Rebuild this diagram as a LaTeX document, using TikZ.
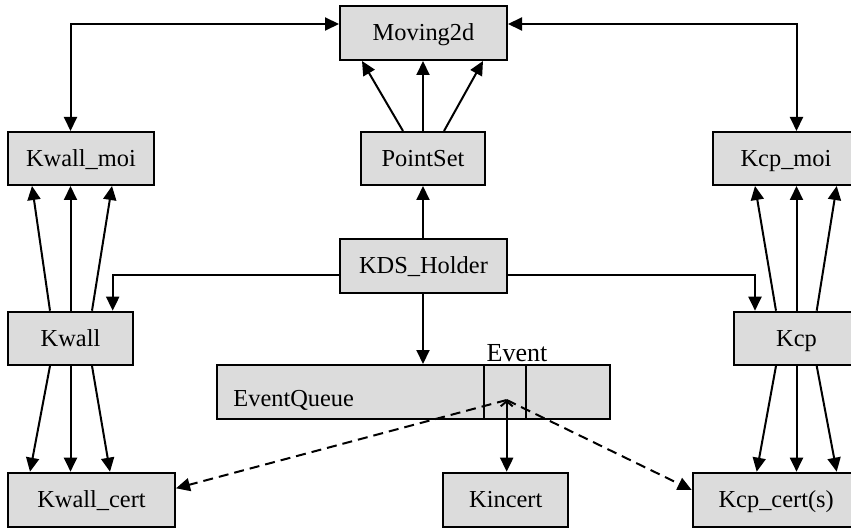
\documentclass[tikz,border=0pt]{standalone}
\usepackage{fontspec}
\setmainfont{Liberation Serif}
\usetikzlibrary{arrows.meta,calc}
\definecolor{boxgray}{HTML}{DCDCDC}
\tikzset{
  box/.style={draw, fill=boxgray, line width=1pt, inner sep=0pt, text height=8pt, text depth=0pt, font=\fontsize{12.2}{14}\selectfont},
  arr/.style={-{Triangle[length=7pt,width=6.5pt]}, line width=1pt},
  darr/.style={{Triangle[length=7pt,width=6.5pt]}-{Triangle[length=7pt,width=6.5pt]}, line width=1pt},
  dasharr/.style={arr, dash pattern=on 5pt off 3pt},
  lbl/.style={inner sep=0pt}
}
\begin{document}
\begin{tikzpicture}[x=0.5pt,y=-0.5pt]
\path[use as bounding box, clip] (0,0) rectangle (851,529);
% boxes
\node[box, minimum width=83.5pt, minimum height=27pt] (mov) at (423.5,33) {Moving2d};
\node[box, minimum width=73pt, minimum height=26.5pt] (kwm) at (81,158.5) {Kwall\_moi};
\node[box, minimum width=62pt, minimum height=26.5pt] (ps) at (423,158.5) {PointSet};
\node[box, minimum width=73pt, minimum height=26.5pt] (kcm) at (786,158.5) {Kcp\_moi};
\node[box, minimum width=83.5pt, minimum height=27pt] (kds) at (423.5,266) {KDS\_Holder};
\node[box, minimum width=62.5pt, minimum height=26.6pt] (kw) at (70.5,338.3) {Kwall};
\node[box, minimum width=62.5pt, minimum height=26.6pt] (kc) at (796.5,338.3) {Kcp};
\node[box, minimum width=196.7pt, minimum height=27.2pt] (eq) at (413.3,392.2) {};
\draw[line width=1pt] ([xshift=134.3pt]eq.north west) -- ([xshift=134.3pt]eq.south west);
\draw[line width=1pt] ([xshift=155pt]eq.north west) -- ([xshift=155pt]eq.south west);
\node[lbl, anchor=base west, font=\fontsize{12.2}{14}\selectfont] (eqtext) at (233,406) {EventQueue};
\node[lbl, anchor=base, font=\fontsize{13}{15}\selectfont] (evtext) at (517,361.7) {Event};
\node[box, minimum width=62.5pt, minimum height=27pt] (kin) at (505.8,499.7) {Kincert};
\node[box, minimum width=83.5pt, minimum height=27pt] (kwc) at (91.5,499.7) {Kwall\_cert};
\node[box, minimum width=83.5pt, minimum height=27pt] (kcc) at (776.2,499.7) {Kcp\_cert(s)};
\coordinate (ev) at (506.7,400);
% top connectors
\draw[darr] (kwm.north -| kw.center) |- ($(mov.west)+(0,-9)$);
\draw[darr] (kcm.north -| kc.center) |- ($(mov.east)+(0,-9)$);
% PointSet -> Moving2d
\draw[arr] ($(ps.north)+(-20,0)$) -- ($(mov.south)+(-61.5,0)$);
\draw[arr] (ps.north) -- (ps.north |- mov.south);
\draw[arr] ($(ps.north)+(21,0)$) -- ($(mov.south)+(59.5,0)$);
% KDS_Holder
\draw[arr] (kds.north -| ps.north) -- (ps.south);
\draw[arr] ($(kds.west)+(0,9)$) -| ($(kw.north)+(42.2,0)$);
\draw[arr] ($(kds.east)+(0,9)$) -| ($(kc.north)+(-41.5,0)$);
\draw[arr] (kds.south -| ps.north) -- (eq.north -| ps.north);
% Kwall
\draw[arr] ($(kw.north)+(-20.5,0)$) -- ($(kwm.south)+(-49,0)$);
\draw[arr] (kw.north) -- (kw.north |- kwm.south);
\draw[arr] ($(kw.north)+(21.5,0)$) -- ($(kwm.south)+(31,0)$);
\draw[arr] ($(kw.south)+(-20.5,0)$) -- ($(kwc.north)+(-61.5,0)$);
\draw[arr] (kw.south) -- (kw.south |- kwc.north);
\draw[arr] ($(kw.south)+(21.5,0)$) -- ($(kwc.north)+(18.5,0)$);
% Kcp
\draw[arr] ($(kc.north)+(-20.5,0)$) -- ($(kcm.south)+(-31,0)$);
\draw[arr] (kc.north) -- (kc.north |- kcm.south);
\draw[arr] ($(kc.north)+(20.2,0)$) -- ($(kcm.south)+(50.7,0)$);
\draw[arr] ($(kc.south)+(-20.5,0)$) -- ($(kcc.north)+(-19.5,0)$);
\draw[arr] (kc.south) -- (kc.south |- kcc.north);
\draw[arr] ($(kc.south)+(20.2,0)$) -- ($(kcc.north)+(60.5,0)$);
% Event
\draw[{Straight Barb[length=2.5pt,width=6pt]}-{Triangle[length=7pt,width=6.5pt]}, line width=1pt] (ev) -- (ev |- kin.north);
\draw[dasharr] (ev) -- ($(kwc.east)+(0,-11.4)$);
\draw[dasharr] (ev) -- ($(kcc.west)+(0,-9.7)$);
\end{tikzpicture}
\end{document}
